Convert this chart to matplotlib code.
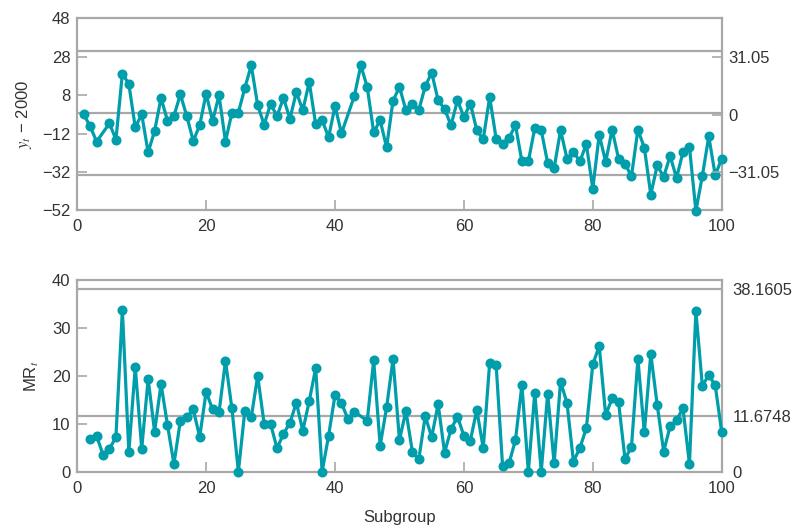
import numpy as np
import matplotlib
matplotlib.use("Agg")
import matplotlib.pyplot as plt

# Individuals chart (y_t - 2000); subgroups 4 and 42 have no dot in the chart
subgroups = [t for t in range(1, 101) if t not in (4, 42)]
y_dev = [-2.0, -8.25, -16.2, -6.7, -15.2, 19.2, 13.8, -8.8, -2.0,
         -21.8, -10.7, 6.5, -5.3, -2.9, 8.4, -3.0, -15.9, -7.7, 8.8,
         -5.5, 7.9, -16.2, -1.1, -1.1, 11.7, 23.5, 2.7, -7.4, 3.4,
         -2.9, 6.5, -4.3, 9.5, 0.1, 14.8, -7.2, -5.0, -14.0, 2.3,
         -11.9, 7.5, 23.5, 12.2, -11.4, -5.1, -19.2, 5.1, 12.2,
         0.2, 3.4, 0.2, 12.6, 19.7, 5.3, 0.75, -7.7, 5.3, -3.4,
         3.6, -10.3, -15.0, 7.0, -14.7, -17.3, -14.3, -7.7, -26.5, -26.5,
         -9.1, -10.3, -27.4, -30.0, -10.3, -25.1, -21.6, -26.5, -17.6, -40.7,
         -12.6, -26.8, -10.0, -25.1, -27.7, -34.3, -10.0, -19.4, -43.8, -28.6,
         -34.6, -23.7, -35.2, -21.6, -19.0, -52.4, -34.1, -13.5, -33.8, -25.1]

# Moving range chart; subgroup 44 has no dot in the chart
mr_subgroups = [t for t in range(2, 101) if t != 44]
mr = [6.76, 7.45, 3.55, 4.74, 7.24, 33.8, 4.1, 21.86, 4.8,
      19.35, 8.35, 18.3, 9.75, 1.6, 10.65, 11.35, 13.0, 7.24, 16.7,
      13.0, 12.4, 23.1, 13.2, 0.0, 12.7, 11.35, 20.0, 9.96, 9.96,
      4.88, 7.9, 10.2, 14.4, 8.56, 14.76, 21.6, 0.0, 7.5, 16.0,
      14.3, 11.0, 12.5, 10.65, 23.25, 5.4, 13.4, 23.5, 6.6,
      12.7, 4.2, 2.6, 11.6, 7.2, 14.1, 4.0, 8.85, 11.5, 7.5,
      6.5, 12.9, 4.9, 22.75, 22.3, 1.2, 1.75, 6.6, 18.1, 0.0,
      16.5, 0.0, 16.3, 1.75, 18.8, 14.3, 2.1, 5.0, 9.05, 22.4,
      26.2, 11.8, 15.3, 14.5, 2.65, 5.2, 23.5, 8.2, 24.6, 13.9,
      4.2, 9.5, 10.8, 13.2, 1.6, 33.55, 17.9, 20.2, 18.0, 8.35]

# control lines as drawn, and the labels on the right
y_lines = [31.0, -1.3, -33.8]
y_right_ticks = [31.05, 0, -31.05]
y_right_labels = ["31.05", "0", "\u221231.05"]
mr_lines = [38.1605, 11.6748]
mr_right_ticks = [0, 11.6748, 38.1605]
mr_right_labels = ["0", "11.6748", "38.1605"]

teal = "#009DAA"
grey = "#a8a8a8"
txt = "#333333"

plt.rcParams["font.family"] = ["Liberation Sans", "DejaVu Sans"]
plt.rcParams["mathtext.fontset"] = "stix"

fig = plt.figure(figsize=(8.04, 5.28), dpi=100)
ax1 = fig.add_axes([0.0961, 0.6017, 0.8015, 0.3636])
ax2 = fig.add_axes([0.0961, 0.1066, 0.8015, 0.3631])


def style(ax):
    for s in ax.spines.values():
        s.set_color(grey)
        s.set_linewidth(1.6)
    ax.tick_params(direction="in", length=7, width=1.2, color=grey,
                   labelcolor=txt, labelsize=12, pad=5)
    ax.tick_params(axis="x", pad=6.5)
    ax.set_xlim(0, 100)
    ax.set_xticks(range(0, 101, 20))


# top: individuals
style(ax1)
for v in y_lines:
    ax1.axhline(v, color=grey, lw=1.6, zorder=1)
ax1.plot(subgroups, y_dev, "-o", color=teal, lw=2.3, ms=6.2, zorder=3, clip_on=False)
ax1.set_ylim(-52, 48)
ax1.set_yticks([-52, -32, -12, 8, 28, 48])
ax1.set_ylabel("$y_t$ \u2212 2000", color=txt, fontsize=12, labelpad=6)

ax1r = ax1.twinx()
for s in ax1r.spines.values():
    s.set_visible(False)
ax1r.set_ylim(-51.8, 52.2)
ax1r.set_yticks(y_right_ticks)
ax1r.set_yticklabels(y_right_labels)
ax1r.tick_params(direction="in", length=7, width=1.2, color=grey,
                 labelcolor=txt, labelsize=12, pad=5)

# bottom: moving range
style(ax2)
for v in mr_lines:
    ax2.axhline(v, color=grey, lw=1.6, zorder=1)
ax2.plot(mr_subgroups, mr, "-o", color=teal, lw=2.3, ms=6.2, zorder=3, clip_on=False)
ax2.set_ylim(0, 40)
ax2.set_yticks([0, 10, 20, 30, 40])
ax2.set_ylabel("MR$_t$", color=txt, fontsize=12, labelpad=8)
ax2.set_xlabel("Subgroup", color=txt, fontsize=12, labelpad=10)

ax2r = ax2.twinx()
for s in ax2r.spines.values():
    s.set_visible(False)
ax2r.set_ylim(0, 40)
ax2r.set_yticks(mr_right_ticks)
ax2r.set_yticklabels(mr_right_labels)
ax2r.tick_params(length=0, labelcolor=txt, labelsize=12, pad=8)

fig.savefig("out.png", dpi=100)
